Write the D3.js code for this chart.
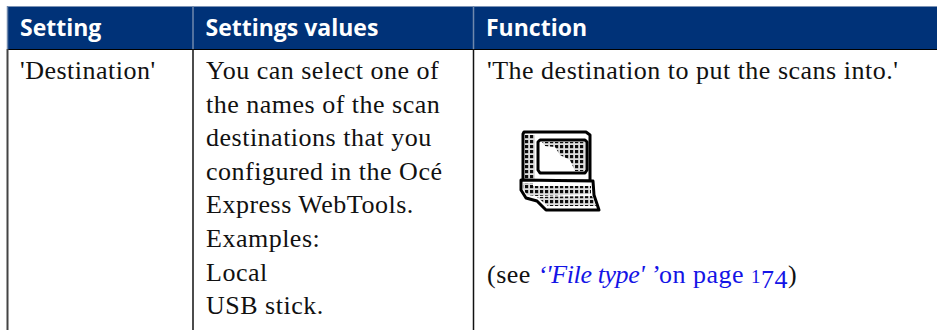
<!DOCTYPE html>
<html>
<head>
<meta charset="utf-8">
<script src="https://cdn.jsdelivr.net/npm/d3@7"></script>
<style>
html, body { margin: 0; padding: 0; background: #fff; overflow: hidden; }
svg { display: block; }
</style>
</head>
<body>
<svg id="table" width="937" height="330"></svg>
<script>
const headers = ['Setting', 'Settings values', 'Function'];
const settingLines = ["'Destination'"];
const valueLines = [
    'You can select one of',
    'the names of the scan',
    'destinations that you',
    'configured in the Océ',
    'Express WebTools.',
    'Examples:',
    'Local',
    'USB stick.'
];
const functionLine = "'The destination to put the scans into.'";

const width = 937, height = 330;
const headTop = 7, headBottom = 49;
const colEdges = [7.5, 193, 473.5, 937];
const lineStep = 33.6, firstBaseline = 79;
const serif = '"Liberation Serif", serif';
const bodySize = 26, bodySpacing = 0.5;

const svg = d3.select('#table');

// Header band
svg.append('rect').attr('x', colEdges[0]).attr('y', headTop)
    .attr('width', width - colEdges[0]).attr('height', headBottom - headTop)
    .attr('fill', '#003278');
svg.append('line').attr('x1', colEdges[0]).attr('x2', width)
    .attr('y1', headTop - 0.5).attr('y2', headTop - 0.5)
    .attr('stroke', '#7c93b5').attr('stroke-width', 1);
svg.append('line').attr('x1', colEdges[0]).attr('x2', width)
    .attr('y1', headBottom + 0.5).attr('y2', headBottom + 0.5)
    .attr('stroke', '#000').attr('stroke-width', 1);

// Column rules, lighter inside the header
colEdges.slice(0, 3).forEach((x, i) => {
    svg.append('line').attr('x1', x).attr('x2', x)
        .attr('y1', headTop - 1).attr('y2', headBottom)
        .attr('stroke', '#6f88ac').attr('stroke-width', 1.5);
    svg.append('line').attr('x1', x).attr('x2', x)
        .attr('y1', headBottom).attr('y2', height)
        .attr('stroke', i === 0 ? '#444' : '#111').attr('stroke-width', i === 0 ? 2 : 1.5);
});

svg.selectAll('text.head')
    .data(headers)
    .enter()
    .append('text')
    .attr('class', 'head')
    .attr('x', (d, i) => colEdges[i] + 12.5)
    .attr('y', 36)
    .attr('font-family', '"Open Sans", sans-serif')
    .attr('font-weight', 700)
    .attr('font-size', 23)
    .attr('fill', '#fff')
    .text(d => d);

function bodyText(lines, x) {
    svg.selectAll(null)
        .data(lines)
        .enter()
        .append('text')
        .attr('x', x)
        .attr('y', (d, i) => firstBaseline + i * lineStep)
        .attr('font-family', serif)
        .attr('font-size', bodySize)
        .attr('letter-spacing', bodySpacing)
        .attr('fill', '#111')
        .text(d => d);
}
bodyText(settingLines, 20);
bodyText(valueLines, 206);
bodyText([functionLine], 487);

// Cross reference line
const ref = svg.append('text')
    .attr('x', 487).attr('y', 283)
    .attr('font-family', serif).attr('font-size', bodySize)
    .attr('letter-spacing', bodySpacing).attr('fill', '#111');
ref.append('tspan').text('(see ');
ref.append('tspan').attr('fill', '#1414e6').attr('font-style', 'italic').attr('letter-spacing', -0.4).text("‘'File type' ’");
ref.append('tspan').attr('fill', '#1414e6').text('on page ');
// old style figures
ref.append('tspan').attr('fill', '#1414e6').attr('font-size', 19).text('1');
ref.append('tspan').attr('fill', '#1414e6').attr('dy', 5).text('74');
ref.append('tspan').attr('dy', -5).text(')');

// Computer icon
const defs = svg.append('defs');
const dots = defs.append('pattern').attr('id', 'dots')
    .attr('patternUnits', 'userSpaceOnUse').attr('width', 5).attr('height', 5);
dots.append('rect').attr('width', 5).attr('height', 5).attr('fill', '#ddd');
dots.append('rect').attr('width', 3.2).attr('height', 3.2).attr('fill', '#111');
defs.append('filter').attr('id', 'soft')
    .append('feGaussianBlur').attr('stdDeviation', 0.5);

const icon = svg.append('g').attr('stroke-linejoin', 'round').attr('filter', 'url(#soft)');
const poly = (pts, fill, sw) => icon.append('path')
    .attr('d', d3.line()(pts) + 'Z')
    .attr('fill', fill).attr('stroke', '#000').attr('stroke-width', sw);

poly([[524,132],[586,132],[590,135],[590,181],[523,181],[523,134]], '#fff', 3);
icon.append('rect').attr('x', 525).attr('y', 135).attr('width', 10).attr('height', 45).attr('fill', 'url(#dots)');
poly([[540,140],[585,140],[587,142],[587,170],[585,173],[540,173],[538,170],[538,142]], '#fff', 3);
icon.append('path').attr('d', d3.line()([[542,142],[585,142],[585,171],[575,171],[570,160],[560,155],[555,147],[545,146]]) + 'Z')
    .attr('fill', 'url(#dots)');
poly([[521,180],[593,181],[594,195],[599,210],[546,210],[537,201],[526,198],[521,190]], '#fff', 3);
icon.append('path').attr('d', d3.line()([[523,183],[533,183],[533,186],[591,186],[591,194],[537,196],[527,195],[523,189]]) + 'Z')
    .attr('fill', 'url(#dots)');
icon.append('path').attr('d', d3.line()([[537,197],[592,196],[596,206],[548,206]]) + 'Z')
    .attr('fill', 'url(#dots)');
</script>
</body>
</html>
